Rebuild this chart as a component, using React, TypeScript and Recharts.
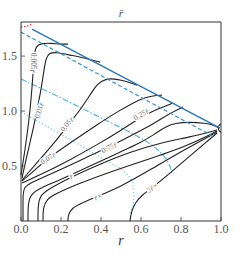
import React from "react";
import { LineChart, Line, XAxis, YAxis, ReferenceDot } from "recharts";

// contour lines, [x, y] in data units
const c005 = [[0, 0.418], [0.02, 0.645], [0.04, 0.918], [0.05, 1.1], [0.06, 1.327], [0.065, 1.509], [0.075, 1.591], [0.1, 1.614], [0.145, 1.618], [0.195, 1.609], [0.235, 1.609]];
const c01 = [[0.005, 0.391], [0.03, 0.6], [0.06, 0.827], [0.08, 1.009], [0.1, 1.191], [0.115, 1.373], [0.125, 1.482], [0.14, 1.527], [0.175, 1.536], [0.245, 1.509], [0.32, 1.482], [0.395, 1.445]];
const c05 = [[0.005, 0.373], [0.07, 0.509], [0.145, 0.664], [0.21, 0.809], [0.255, 0.918], [0.295, 1.009], [0.335, 1.118], [0.37, 1.218], [0.4, 1.273], [0.445, 1.3], [0.505, 1.282], [0.58, 1.236]];
const c07 = [[0.005, 0.364], [0.07, 0.464], [0.135, 0.573], [0.245, 0.709], [0.37, 0.864], [0.495, 1.009], [0.595, 1.109], [0.645, 1.136], [0.705, 1.145]];
const c25 = [[0.005, 0.345], [0.095, 0.418], [0.245, 0.555], [0.395, 0.709], [0.495, 0.818], [0.6, 0.945], [0.67, 1.009], [0.76, 1.073]];
const c75 = [[0.01, 0], [0.01, 0.191], [0.01, 0.318], [0.07, 0.364], [0.195, 0.464], [0.32, 0.573], [0.44, 0.673], [0.545, 0.773], [0.645, 0.864], [0.72, 0.955], [0.81, 1.036]];
const cLoop = [[0.035, 0], [0.035, 0.164], [0.05, 0.245], [0.095, 0.3], [0.195, 0.373], [0.345, 0.5], [0.495, 0.627], [0.595, 0.709], [0.67, 0.791], [0.72, 0.855], [0.77, 0.891], [0.845, 0.9], [0.92, 0.891], [0.965, 0.873], [0.99, 0.845]];
const cHook = [[1, 0.882], [0.99, 0.873], [0.985, 0.845], [0.99, 0.818], [1, 0.809]];
const cR = [[0.085, 0], [0.085, 0.145], [0.095, 0.227], [0.13, 0.282], [0.25, 0.4], [0.395, 0.518], [0.545, 0.627], [0.695, 0.709], [0.845, 0.764], [0.98, 0.827]];
const cR2 = [[0.11, 0], [0.11, 0.127], [0.13, 0.2], [0.17, 0.245], [0.295, 0.345], [0.445, 0.445], [0.595, 0.536], [0.745, 0.627], [0.87, 0.718], [0.98, 0.818]];
const cRx = [[0.235, 0], [0.235, 0.055], [0.255, 0.118], [0.295, 0.155], [0.385, 0.227], [0.495, 0.309], [0.645, 0.464], [0.795, 0.627], [0.98, 0.809]];
const c3Rx = [[0.545, 0], [0.55, 0.073], [0.57, 0.164], [0.605, 0.236], [0.66, 0.309], [0.745, 0.436], [0.845, 0.591], [0.92, 0.709], [0.98, 0.8]];

// reference curves
const blueSolid = [[0.055, 1.745], [0.995, 0.845]];
const blueDashed = [[0, 1.718], [0.97, 0.76]];
const cyanDashDot = [[0, 1.291], [0.195, 1.127], [0.37, 0.964], [0.545, 0.809], [0.645, 0.709], [0.705, 0.618], [0.74, 0.527], [0.755, 0.445], [0.755, 0.418]];
const cyanDotted = [[0, 0.991], [0.145, 0.845], [0.295, 0.691], [0.42, 0.555], [0.495, 0.482], [0.535, 0.418], [0.56, 0.345], [0.565, 0.236], [0.56, 0.145], [0.545, 0.073]];
const redDotted = [[0, 1.764], [0.03, 1.773], [0.055, 1.79]];

const contours = [c005, c01, c05, c07, c25, c75, cLoop, cHook, cR, cR2, cRx, c3Rx];

const labelText = ["0.005", "0.01", "0.05", "0.25", "0.07", "0.75", "", "", "3"];
const labelSuffix = ["r\u0304", "r\u0304", "r\u0304", "r\u0304", "r\u0304", "r\u0304", "r\u0304", "r\u0304\u00d7", "r\u0304\u00d7"];
const labelX = [0.06, 0.09, 0.23, 0.6, 0.135, 0.44, 0.25, 0.385, 0.655];
const labelY = [1.44, 1.006, 0.88, 0.97, 0.57, 0.67, 0.405, 0.225, 0.305];
const labelAngle = [90, -72, -50, -30, -33, -27, -25, -28, -38];

const xTicks = [0, 0.2, 0.4, 0.6, 0.8, 1.0];
const yTicks = [0.5, 1.0, 1.5];

const FONT = "'Liberation Serif', 'DejaVu Serif', serif";
const serif = { fontFamily: FONT };

const toPts = (a: number[][]) => a.map(([x, y]) => ({ x, y }));

function XTick({ x, y, payload }: any) {
  return (
    <g>
      <line x1={x} y1={y} x2={x} y2={y - 4} stroke="#444" strokeWidth={0.8} />
      <text x={x} y={y + 12} textAnchor="middle" fontSize={12} style={serif} fill="#555">
        {payload.value.toFixed(1)}
      </text>
    </g>
  );
}

function YTick({ x, y, payload }: any) {
  return (
    <g>
      <line x1={x} y1={y} x2={x + 4} y2={y} stroke="#444" strokeWidth={0.8} />
      <text x={x - 4} y={y + 4} textAnchor="end" fontSize={12} style={serif} fill="#555">
        {payload.value.toFixed(1)}
      </text>
    </g>
  );
}

export default function App() {
  return (
    <div style={{ position: "absolute", left: 0, top: 0, width: 240, height: 262, background: "#fff", fontFamily: FONT }}>
      <LineChart width={240} height={262} margin={{ top: 0, right: 0, bottom: 0, left: 0 }} style={serif}>
        <XAxis
          dataKey="x"
          type="number"
          domain={[0, 1]}
          ticks={xTicks}
          height={41}
          tickLine={false}
          tickSize={0}
          tickMargin={0}
          axisLine={{ stroke: "#333" }}
          tick={<XTick />}
          label={{
            content: ({ viewBox }: any) => (
              <text x={viewBox.x + viewBox.width / 2} y={viewBox.y + 24} textAnchor="middle" fontSize={14} fontStyle="italic" style={serif} fill="#333">
                r
              </text>
            ),
          }}
        />
        <XAxis
          xAxisId="top"
          orientation="top"
          type="number"
          domain={[0, 1]}
          height={22}
          tick={false}
          tickLine={false}
          axisLine={{ stroke: "#333" }}
          label={{
            content: ({ viewBox }: any) => (
              <text x={viewBox.x + viewBox.width / 2} y={17} textAnchor="middle" fontSize={11} fontStyle="italic" style={serif} fill="#444">
                {"r\u0304"}
              </text>
            ),
          }}
        />
        <YAxis
          type="number"
          domain={[0, 1.81]}
          ticks={yTicks}
          width={21}
          tickLine={false}
          tickSize={0}
          tickMargin={0}
          axisLine={{ stroke: "#333" }}
          tick={<YTick />}
        />
        <YAxis yAxisId="right" orientation="right" type="number" domain={[0, 1.81]} width={19} tick={false} tickLine={false} axisLine={{ stroke: "#333" }} />

        <Line data={toPts(cyanDotted)} dataKey="y" stroke="#74d0d4" strokeWidth={1.3} strokeDasharray="1.2 2.2" dot={false} activeDot={false} isAnimationActive={false} />
        <Line data={toPts(cyanDashDot)} type="basis" dataKey="y" stroke="#4fb8df" strokeWidth={1.2} strokeDasharray="6 2 1.5 2" dot={false} activeDot={false} isAnimationActive={false} />
        {contours.map((c, i) => (
          <Line key={i} data={toPts(c)} type="basis" dataKey="y" stroke="#222" strokeWidth={1.1} dot={false} activeDot={false} isAnimationActive={false} />
        ))}
        <Line data={toPts(blueDashed)} dataKey="y" stroke="#3596d2" strokeWidth={1.2} strokeDasharray="4 2.5" dot={false} activeDot={false} isAnimationActive={false} />
        <Line data={toPts(blueSolid)} dataKey="y" stroke="#2a78b8" strokeWidth={1.4} dot={false} activeDot={false} isAnimationActive={false} />
        <Line data={toPts(redDotted)} dataKey="y" stroke="#e3343a" strokeWidth={1.3} strokeDasharray="1.3 1.8" dot={false} activeDot={false} isAnimationActive={false} />

        {labelX.map((lx, i) => (
          <ReferenceDot
            key={"l" + i}
            x={lx}
            y={labelY[i]}
            r={0}
            shape={(p: any) => (
              <text
                x={p.cx}
                y={p.cy}
                transform={`rotate(${labelAngle[i]} ${p.cx} ${p.cy})`}
                textAnchor="middle"
                dominantBaseline="central"
                fontSize={7.5}
                style={serif}
                fill="#666"
                stroke="#fff"
                strokeWidth={2.5}
                paintOrder="stroke"
              >
                {labelText[i]}
                <tspan fontStyle="italic">{labelSuffix[i]}</tspan>
              </text>
            )}
          />
        ))}
      </LineChart>
    </div>
  );
}
